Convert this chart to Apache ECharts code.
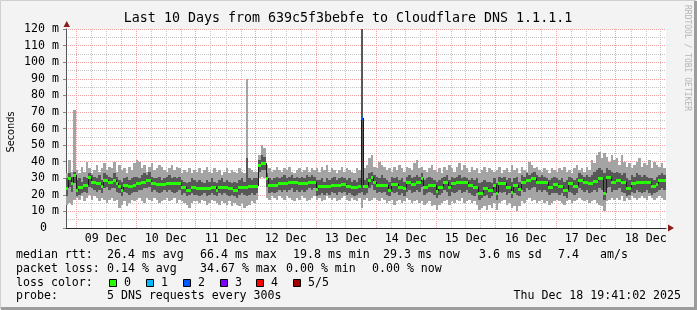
<!DOCTYPE html>
<html><head><meta charset="utf-8">
<script src="https://cdn.jsdelivr.net/npm/echarts@6/dist/echarts.min.js"></script>
<style>html,body{margin:0;padding:0;background:#f3f3f3}#c{width:697px;height:310px}</style>
</head><body><div id="c"></div>
<script>
// ---- time axis (hours since 08 Dec 00:00) ----
const viewStart = 20.1, viewEnd = 260.1;
const firstHour = 20;               // first hourly data point
const dayLabels = ['09 Dec','10 Dec','11 Dec','12 Dec','13 Dec','14 Dec','15 Dec','16 Dec','17 Dec','18 Dec'];
const dayLabelHours = [36,60,84,108,132,156,180,204,228,252];
const midnightHours = [24,48,72,96,120,144,168,192,216,240];
const sixHourHours = [30,36,42,54,60,66,78,84,90,102,108,114,126,132,138,150,156,162,174,180,186,198,204,210,222,228,234,246,252,258];
const yMajor = [0,10,20,30,40,50,60,70,80,90,100,110,120];
const yMinor = [5,15,25,35,45,55,65,75,85,95,105,115];

// ---- smoke values (ms), one per hour ----
const minV = [14,15,14,17,
18,17,19,16,18,20,17,19,18,16,18,17,15,17,18,16,17,12,14,16,13,15,17,16,
17,18,16,15,18,17,16,18,17,15,16,17,18,16,17,18,15,17,16,15,14,12,15,16,
16,15,17,16,14,15,17,16,15,14,16,15,14,16,13,15,14,13,15,12,13,14,16,15,
17,30,31,30,18,17,19,18,17,19,18,17,19,18,17,16,18,17,19,18,16,17,18,19,
17,18,16,17,19,18,17,18,16,17,18,19,17,16,18,17,16,18,12,17,18,16,17,18,
17,16,18,17,15,16,17,14,16,17,15,16,18,17,15,16,17,15,16,14,15,16,13,14,
11,14,15,16,17,14,16,15,17,16,18,15,16,17,15,16,14,11,12,13,11,14,12,15,
11,15,16,17,14,15,12,13,10,13,16,15,17,18,16,17,15,16,17,15,16,14,15,16,
17,16,15,14,16,17,15,16,17,18,17,16,17,15,16,17,15,14,13,10,16,17,18,17,
18,17,19,16,18,17,19,18,17,18,19,18,17,19,18,17,18,19,18,17];
const q1V = [19,25,22,27,
19,20,21,22,21,25,24,23,22,23,21,24,25,23,24,24,22,21,19,22,21,20,21,22,
22,23,23,24,24,25,22,23,22,21,22,23,22,23,22,21,22,23,20,21,19,20,21,20,
20,19,20,21,19,20,21,20,19,21,20,21,20,19,20,19,18,20,21,20,19,20,21,20,
21,34,35,35,25,21,22,21,22,23,22,23,22,23,24,22,23,22,23,22,23,24,23,24,
19,20,21,20,21,20,22,21,20,22,21,22,20,21,20,19,20,21,22,20,21,24,26,23,
21,22,21,22,20,19,22,21,22,20,21,19,22,23,21,22,23,22,25,20,21,22,21,20,
18,20,21,23,22,19,22,21,22,23,21,22,23,21,20,19,21,17,18,19,20,18,19,21,
17,22,21,22,20,21,18,21,20,19,23,22,24,23,24,25,22,23,22,23,22,20,21,21,
21,20,21,19,18,22,21,20,21,24,23,22,23,21,22,23,22,24,23,17,24,25,22,23,
23,24,22,21,19,20,22,21,23,22,21,22,23,21,20,21,22,23,24,23];
const medV = [24,30,27,32,
23,24.5,24.5,26,26,31,28,28,27,27,25.3,29,29,28,28,29,27,25.3,23,26,26,25.3,25.3,26,
27,27,28,28,29,29,27,27,26.5,26.5,26.5,26.5,27,27,27,27,27,27,24.5,24.5,23,23,25,25,
24,24,24,24,24,24,24.5,24.5,23,25,25,25,25,24,24,23,23,25,25,25,25,25.3,25.3,25.3,
25.3,38,39,39,30,26,26,26,26,27,27,27,27,27.5,27.5,27.5,27.5,27,27,27,27,28,28,28,
23.5,25.3,25.3,25.3,25.3,25.3,26,26,26,26,26.5,26.5,25.3,25.3,24.5,24.5,24.5,25.3,66.4,25.3,25.3,29,31,28,
26,26,26,26,26,23,26.5,26.5,26.5,25,25,24,27.5,27.5,26.5,26.5,28,28,30,25,25,26,26,26,
22.3,25,25,28,28,24.5,27,27,27.5,27.5,27.5,27.5,27.5,26,26,25,25,21.3,21.3,24,24,23,23,26,
21.3,27,27,27,25,25,22,26,26,23.5,28,28,29,29,30,30,28,28,28,27.5,27.5,25,25,26.5,
26.5,25.3,25.3,23,23,27,27,25.3,25.3,29,29,28,28,27,27,28.5,28.5,30,30,21,31,31,28,28,
29,29,27.5,27.5,24,24,27,27,28,28,27.5,27.5,27.5,27.5,25.3,25.3,26.5,29,29,29];
const q3V = [30,33,31,34,
29,30,28,31,30,33,32,31,30,32,29,33,32,31,30,33,31,29,28,30,31,29,30,31,
31,30,32,33,32,34,31,30,30,31,29,30,31,32,30,31,30,31,29,28,27,28,30,29,
28,29,28,27,29,28,30,28,27,29,30,28,29,28,27,28,27,29,30,28,42,30,29,30,
30,41,44,43,33,30,29,30,31,30,31,32,30,31,32,30,31,30,31,30,32,31,32,31,
29,29,30,28,30,29,30,31,29,30,31,30,29,30,28,29,28,30,125,29,30,33,34,32,
31,30,32,30,29,28,31,30,31,29,30,28,31,32,30,31,32,31,33,29,30,31,30,29,
28,29,30,31,32,29,31,30,31,32,30,31,30,29,30,29,30,27,28,29,28,28,27,30,
27,31,30,31,29,30,28,30,31,28,32,31,33,32,33,34,32,31,32,31,30,29,30,31,
30,29,30,28,29,31,30,29,30,33,32,31,32,31,32,34,35,36,35,33,36,35,34,33,
34,33,32,33,30,29,32,31,33,32,31,32,31,30,30,29,31,32,33,32];
const maxV = [33,41,34,71,
35,33,37,34,40,36,33,35,38,34,36,39,35,37,36,40,34,38,35,36,33,37,35,39,
41,40,36,38,34,37,39,35,36,38,37,35,34,36,38,35,37,36,33,35,34,36,33,35,
34,36,33,35,37,34,33,36,34,35,32,34,36,33,35,34,33,36,34,33,90,36,35,34,
34,44,50,48,38,36,34,35,37,35,34,36,35,37,34,33,35,36,34,35,37,34,36,35,
36,34,37,35,38,34,36,35,33,35,37,34,36,35,34,33,36,35,130,36,38,42,44,37,
36,40,38,37,35,36,34,37,35,38,36,34,37,36,35,39,41,36,37,35,34,36,38,35,
34,36,33,37,35,38,36,34,37,39,35,38,36,34,37,35,36,33,35,37,34,36,35,34,
35,37,33,35,36,34,38,35,36,33,37,35,34,40,38,36,37,35,34,36,35,33,36,35,
34,36,35,37,34,35,33,36,38,35,36,34,37,35,41,39,44,46,42,45,43,40,44,41,
42,38,44,40,37,39,36,38,40,42,37,39,38,41,36,40,38,37,39,36];
// packet loss (%) – only non-zero hours listed
const lossIndex = [118];
const lossPct = [34.67];

const lossColors = ['#26ff00','#00b8ff','#0059ff','#7e00ff','#ff0000','#a10000'];
const lossLabels = ['0','1','2','3','4','5/5'];

const MONO_NAME = 'DejaVu Sans Mono';
const MONO = '"DejaVu Sans Mono", monospace';

const data = medV.map((m, i) => {
  const k = lossIndex.indexOf(i);
  return [firstHour + i, minV[i], q1V[i], m, q3V[i], maxV[i], k >= 0 ? lossPct[k] : 0];
});

function span(params, api) {
  const h = api.value(0), cs = params.coordSys;
  let x0 = Math.max(cs.x, api.coord([h, 0])[0]);
  let x1 = Math.min(cs.x + cs.width, api.coord([h + 1, 0])[0]);
  return [Math.round(x0), Math.round(x1)];
}
function ypix(params, api, v) {
  const cs = params.coordSys;
  return Math.round(Math.max(cs.y, api.coord([api.value(0), v])[1]));
}
function renderSmoke(params, api) {
  const [x0, x1] = span(params, api);
  if (x1 <= x0) return null;
  const yMin = ypix(params, api, api.value(1)), yQ1 = ypix(params, api, api.value(2));
  const yQ3 = ypix(params, api, api.value(4)), yMax = ypix(params, api, api.value(5));
  return { type: 'group', children: [
    { type: 'rect', shape: { x: x0, y: yMax, width: x1 - x0, height: yMin - yMax }, style: { fill: '#a4a4a4' } },
    { type: 'rect', shape: { x: x0, y: yQ3, width: x1 - x0, height: yQ1 - yQ3 }, style: { fill: '#585858' } }
  ]};
}
function renderMedian(params, api) {
  const i = params.dataIndex;
  const [x0, x1] = span(params, api);
  if (x1 <= x0) return null;
  const y = ypix(params, api, api.value(3));
  const loss = api.value(6);
  const col = lossColors[Math.round(loss / 20)];
  const children = [];
  if (i > 0) {
    const yp = ypix(params, api, medV[i - 1]);
    if (yp !== y) children.push({ type: 'line', shape: { x1: x0 + 0.5, y1: yp, x2: x0 + 0.5, y2: y }, style: { stroke: '#1a1a1a', lineWidth: 1 } });
  }
  children.push({ type: 'rect', shape: { x: x0, y: y - 1, width: x1 - x0, height: 3 }, style: { fill: col } });
  return { type: 'group', children };
}

const legendLines = [
  { y: 255, parts: [['median rtt:', 16], ['26.4 ms avg', 107], ['66.4 ms max', 200], ['19.8 ms min', 293], ['29.3 ms now', 383], ['3.6 ms sd', 479], ['7.4', 558], ['am/s', 600]] },
  { y: 268.5, parts: [['packet loss:', 16], ['0.14 % avg', 107], ['34.67 % max', 200], ['0.00 % min', 286], ['0.00 % now', 372]] },
  { y: 282.5, parts: [['loss color:', 16]] },
  { y: 296, parts: [['probe:', 16], ['5 DNS requests every 300s', 107]] }
];
const lossBoxX = [109, 146, 183, 220, 256, 293];

const graphics = [];
legendLines.forEach(l => l.parts.forEach(p => graphics.push({
  type: 'text', x: p[1], y: l.y, style: { text: p[0], font: '11.6px ' + MONO, fill: '#000', textVerticalAlign: 'middle' }
})));
lossBoxX.forEach((bx, k) => {
  graphics.push({ type: 'rect', shape: { x: bx + 0.5, y: 279.5, width: 7, height: 7 }, style: { fill: lossColors[k], stroke: '#000', lineWidth: 1 } });
  graphics.push({ type: 'text', x: bx + 15, y: 282.5, style: { text: lossLabels[k], font: '11.6px ' + MONO, fill: '#000', textVerticalAlign: 'middle' } });
});
graphics.push({ type: 'text', x: 681, y: 296, style: { text: 'Thu Dec 18 19:41:02 2025', font: '11.6px ' + MONO, fill: '#000', textAlign: 'right', textVerticalAlign: 'middle' } });
graphics.push({ type: 'text', x: 348, y: 19, style: { text: 'Last 10 Days from 639c5f3bebfe to Cloudflare DNS 1.1.1.1', font: '13.3px ' + MONO, fill: '#000', textAlign: 'center', textVerticalAlign: 'middle' } });
graphics.push({ type: 'text', x: 687, y: 5, rotation: -Math.PI / 2, style: { text: 'RRDTOOL / TOBI OETIKER', font: '8px ' + MONO, fill: '#b4b4b4', textAlign: 'left', textVerticalAlign: 'middle' } });
graphics.push({ type: 'text', x: 11, y: 132, rotation: Math.PI / 2, style: { text: 'Seconds', font: '9.8px "DejaVu Sans", sans-serif', fill: '#000', textAlign: 'center', textVerticalAlign: 'middle' } });
// frame
graphics.push({ type: 'polyline', shape: { points: [[0.5, 309], [0.5, 0.5], [696, 0.5]] }, style: { stroke: '#cfcfcf', lineWidth: 1, fill: null } });
graphics.push({ type: 'polyline', shape: { points: [[1, 308.5], [695.5, 308.5], [695.5, 1]] }, style: { stroke: '#9c9c9c', lineWidth: 3, fill: null } });
// axis arrows
graphics.push({ type: 'polygon', shape: { points: [[63.5, 27], [70, 27], [66.75, 21]] }, style: { fill: '#8b1c1c' }, z: 100 });
graphics.push({ type: 'polygon', shape: { points: [[668, 224.5], [668, 231.5], [674, 228]] }, style: { fill: '#8b1c1c' }, z: 100 });

const chart = echarts.init(document.getElementById('c'), null, { renderer: 'canvas' });
chart.setOption({
  animation: false,
  backgroundColor: '#f3f3f3',
  grid: { left: 66, top: 29, width: 600, height: 199, show: true, backgroundColor: '#ffffff', borderWidth: 0,
    containLabel: false, outerBoundsMode: 'none' },
  xAxis: [
    { type: 'value', min: viewStart, max: viewEnd, z: 3,
      axisLine: { show: true, onZero: false, lineStyle: { color: '#2a2a2a', width: 1 } },
      axisTick: { show: false, customValues: midnightHours },
      axisLabel: { customValues: dayLabelHours, margin: 5, fontFamily: MONO_NAME, fontSize: 11.6, color: '#000',
        formatter: v => dayLabels[dayLabelHours.indexOf(Math.round(v))] || '' },
      splitLine: { show: true, lineStyle: { color: '#f2a2a2', type: [1, 1], width: 1 } } },
    { type: 'value', min: viewStart, max: viewEnd, position: 'bottom', z: 2,
      axisLine: { show: false }, axisLabel: { show: false },
      axisTick: { show: false, customValues: sixHourHours },
      splitLine: { show: true, lineStyle: { color: '#c4c4c4', type: [1, 1], width: 1 } } }
  ],
  yAxis: [
    { type: 'value', min: 0, max: 120, interval: 10, z: 3,
      axisLine: { show: true, onZero: false, lineStyle: { color: '#555', width: 1 } },
      axisTick: { show: true, length: 3, lineStyle: { color: '#888' }, customValues: yMajor },
      axisLabel: { margin: 7, fontFamily: MONO_NAME, fontSize: 11.6, color: '#000',
        formatter: v => v === 0 ? '{z|0}' : v + ' m',
        rich: { z: { fontFamily: MONO_NAME, fontSize: 11.6, color: '#000', padding: [0, 12, 0, 0] } } },
      splitLine: { show: true, lineStyle: { color: '#f2a2a2', type: [1, 1], width: 1 } } },
    { type: 'value', min: 0, max: 120, position: 'left', z: 2,
      axisLine: { show: false }, axisLabel: { show: false },
      axisTick: { show: false, customValues: yMinor },
      splitLine: { show: true, lineStyle: { color: '#c4c4c4', type: [1, 1], width: 1 } } }
  ],
  series: [
    { type: 'custom', name: 'smoke', xAxisIndex: 0, yAxisIndex: 0, renderItem: renderSmoke, data: data, z: 4,
      encode: { x: 0, y: [1, 5] }, silent: true },
    { type: 'custom', name: 'median', xAxisIndex: 0, yAxisIndex: 0, renderItem: renderMedian, data: data, z: 5,
      encode: { x: 0, y: 3 }, silent: true }
  ],
  graphic: graphics
});
</script></body></html>
